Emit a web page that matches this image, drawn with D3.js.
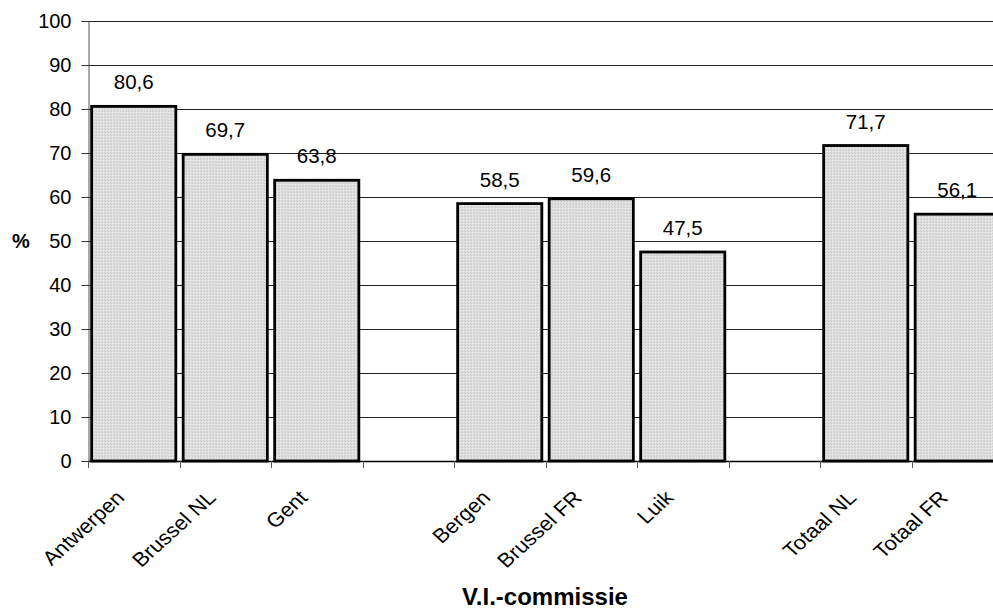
<!DOCTYPE html>
<html>
<head>
<meta charset="utf-8">
<script src="https://cdn.jsdelivr.net/npm/d3@7"></script>
<style>
  html, body { margin: 0; padding: 0; background: #fff; }
  svg { display: block; }
  text { font-family: Arial, "Liberation Sans", sans-serif; fill: #000; }
</style>
</head>
<body>
<svg id="chart" width="993" height="610"></svg>
<script>
// Slots along the category axis; empty strings are the gaps between groups
const categories = ["Antwerpen", "Brussel NL", "Gent", "", "Bergen", "Brussel FR", "Luik", "", "Totaal NL", "Totaal FR"];
const values = [80.6, 69.7, 63.8, null, 58.5, 59.6, 47.5, null, 71.7, 56.1];
const yTicks = [0, 10, 20, 30, 40, 50, 60, 70, 80, 90, 100];
const yTitle = "%";
const xTitle = "V.I.-commissie";

const svg = d3.select("#chart");
const margin = { left: 88, top: 21, plotRight: 1003, bottom: 461 };

const x = d3.scaleBand()
  .domain(d3.range(categories.length))
  .range([margin.left, margin.plotRight])
  .padding(0);

const y = d3.scaleLinear()
  .domain([0, 100])
  .range([margin.bottom, margin.top]);

const fmt = v => d3.format(".1f")(v).replace(".", ",");

// Fine stipple fill for the bars
const defs = svg.append("defs");
const pat = defs.append("pattern")
  .attr("id", "stipple")
  .attr("patternUnits", "userSpaceOnUse")
  .attr("width", 3).attr("height", 3);
pat.append("rect").attr("width", 3).attr("height", 3).attr("fill", "#dedede");
pat.append("rect").attr("x", 0).attr("y", 0).attr("width", 1).attr("height", 1).attr("fill", "#c6c6c6");
pat.append("rect").attr("x", 1).attr("y", 1).attr("width", 1).attr("height", 1).attr("fill", "#eeeeee");
pat.append("rect").attr("x", 2).attr("y", 2).attr("width", 1).attr("height", 1).attr("fill", "#d0d0d0");

// Horizontal gridlines
svg.append("g")
  .selectAll("line")
  .data(yTicks.filter(t => t > 0))
  .join("line")
  .attr("x1", margin.left).attr("x2", margin.plotRight)
  .attr("y1", d => Math.round(y(d)) + 0.5).attr("y2", d => Math.round(y(d)) + 0.5)
  .attr("stroke", "#222").attr("stroke-width", 1);

// Y axis
const yAxis = svg.append("g")
  .attr("transform", `translate(${margin.left + 0.5},0)`)
  .call(d3.axisLeft(y).tickValues(yTicks).tickSize(7).tickPadding(10).tickFormat(d3.format("d")));
yAxis.select(".domain").attr("stroke", "#555").attr("stroke-width", 1);
yAxis.selectAll(".tick line").attr("stroke", "#333");
yAxis.selectAll(".tick text")
  .style("font-size", "20px")
  .style("font-family", "Arial, 'Liberation Sans', sans-serif")
  .attr("fill", "#000");

// Bars
const barW = x.bandwidth() * 0.92;
const bars = categories.map((c, i) => ({ i, c, v: values[i] })).filter(d => d.v != null);

svg.append("g")
  .selectAll("rect")
  .data(bars)
  .join("rect")
  .attr("x", d => x(d.i) + (x.bandwidth() - barW) / 2)
  .attr("width", barW)
  .attr("y", d => y(d.v))
  .attr("height", d => y(0) - y(d.v))
  .attr("fill", "url(#stipple)")
  .attr("stroke", "#000")
  .attr("stroke-width", 2.8);

// X axis: baseline with ticks at slot boundaries
const xg = svg.append("g");
xg.append("line")
  .attr("x1", margin.left).attr("x2", margin.plotRight)
  .attr("y1", y(0) + 0.5).attr("y2", y(0) + 0.5)
  .attr("stroke", "#000").attr("stroke-width", 1.5);
xg.selectAll("line.tick")
  .data(d3.range(categories.length + 1))
  .join("line")
  .attr("class", "tick")
  .attr("x1", i => Math.round(margin.left + i * x.bandwidth()) + 0.5)
  .attr("x2", i => Math.round(margin.left + i * x.bandwidth()) + 0.5)
  .attr("y1", y(0)).attr("y2", y(0) + 7)
  .attr("stroke", "#555");

// Value labels
svg.append("g")
  .selectAll("text")
  .data(bars)
  .join("text")
  .attr("x", d => x(d.i) + x.bandwidth() / 2)
  .attr("y", d => y(d.v) - 17)
  .attr("text-anchor", "middle")
  .style("font-size", "20.5px")
  .text(d => fmt(d.v));

// Category labels, rotated
svg.append("g")
  .selectAll("text")
  .data(bars)
  .join("text")
  .attr("transform", d => `translate(${x(d.i) + x.bandwidth() / 2 - 8},499) scale(1.1,1) rotate(-45)`)
  .attr("text-anchor", "end")
  .style("font-size", "20px")
  .text(d => d.c);

// Axis titles
svg.append("text")
  .attr("x", 21).attr("y", y(50) + 7)
  .attr("text-anchor", "middle")
  .style("font-size", "20px").style("font-weight", "bold")
  .text(yTitle);

svg.append("text")
  .attr("x", 545).attr("y", 605)
  .attr("text-anchor", "middle")
  .style("font-size", "24px").style("font-weight", "bold")
  .text(xTitle);
</script>
</body>
</html>
